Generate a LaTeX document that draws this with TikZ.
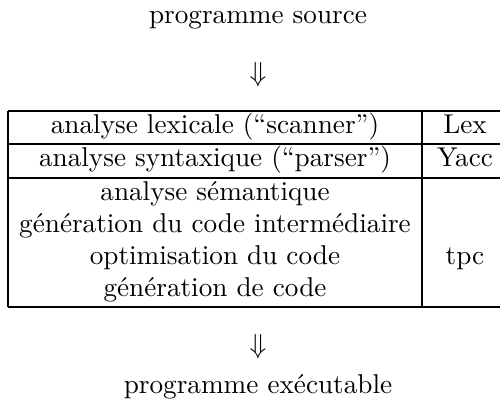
\documentclass[tikz,border=0pt]{standalone}
\usepackage{fontspec}
\begin{document}
\begin{tikzpicture}[x=0.364pt,y=-0.364pt,
  txt/.style={inner sep=0pt,anchor=base,font=\fontsize{9.9}{12}\selectfont},
  arrowsym/.style={inner sep=0pt,font=\fontsize{9.9}{12}\selectfont},
  rule/.style={line width=0.5pt}]
\useasboundingbox (0,0) rectangle (500,410);
% titles and arrows
\node[txt] (src) at (258,24) {programme source};
\node[arrowsym] (arr1) at (258,75) {$\Downarrow$};
\node[arrowsym] (arr2) at (258,347) {$\Downarrow$};
\node[txt] (exe) at (258,394) {programme exécutable};
% table rules
\draw[rule] (8,111) -- (510,111);
\draw[rule] (8,144) -- (510,144);
\draw[rule] (8,178) -- (510,178);
\draw[rule] (8,307) -- (510,307);
\draw[rule] (8,111) -- (8,307);
\draw[rule] (422,111) -- (422,307);
% left column
\node[txt] (lex) at (215,134) {analyse lexicale (``scanner'')};
\node[txt] (syn) at (215,167) {analyse syntaxique (``parser'')};
\node[txt] (sem) at (215,201) {analyse sémantique};
\node[txt] (gen) at (215,233) {génération du code intermédiaire};
\node[txt] (opt) at (215,265) {optimisation du code};
\node[txt] (cod) at (215,297) {génération de code};
% right column
\node[txt] (tlex) at (465,134) {Lex};
\node[txt] (tyacc) at (465,167) {Yacc};
\node[txt] (ttpc) at (465,265) {tpc};
\end{tikzpicture}
\end{document}
